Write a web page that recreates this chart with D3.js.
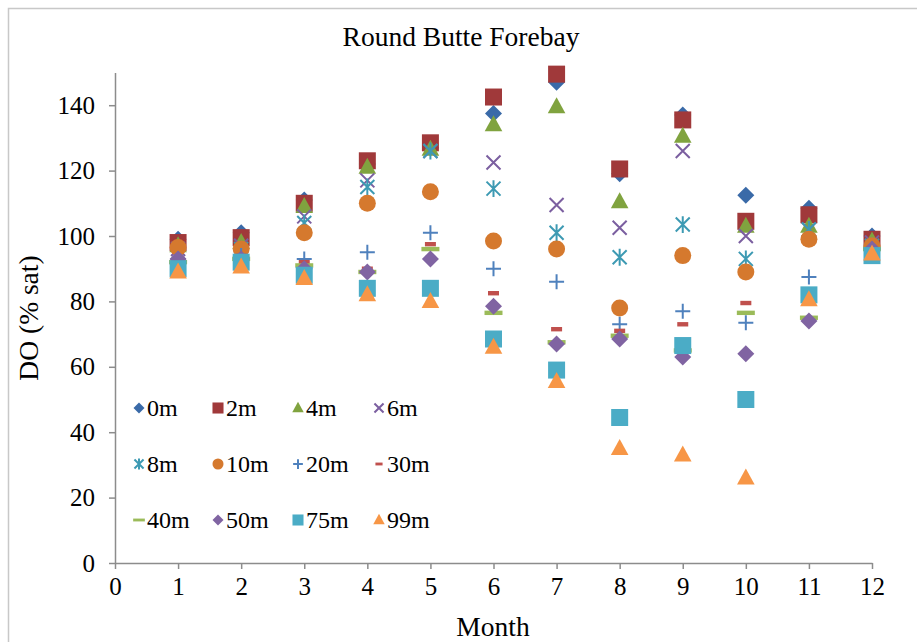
<!DOCTYPE html>
<html>
<head>
<meta charset="utf-8">
<script src="https://cdn.jsdelivr.net/npm/d3@7"></script>
<style>
  body { margin: 0; background: #fff; }
  svg text { font-family: "Liberation Serif", "Times New Roman", serif; fill: #000; }
</style>
</head>
<body>
<svg id="chart" width="917" height="642"></svg>
<script>
// Month of sampling
const months = [1, 2, 3, 4, 5, 6, 7, 8, 9, 10, 11, 12];
const xTickValues = [0, 1, 2, 3, 4, 5, 6, 7, 8, 9, 10, 11, 12];
const yTickValues = [0, 20, 40, 60, 80, 100, 120, 140];

// Dissolved oxygen (% saturation) by depth
const do0m  = [99, 101, 111, 122, 127, 137.5, 147, 119, 137, 112.5, 108.5, 100];
const do2m  = [98, 99.5, 110, 123, 128.5, 142.5, 149.5, 120.5, 135.5, 104.5, 106.5, 99];
const do4m  = [97, 98, 109, 121, 126.5, 134, 139.5, 110.5, 130.5, 103, 103, 98.5];
const do6m  = [96, 97, 106, 117, 126, 122.5, 109.5, 102.5, 126, 100, 102, 98];
const do8m  = [95, 96, 104, 115, 126, 114.5, 101, 93.5, 103.5, 93, 102, 97];
const do10m = [96.5, 96, 101, 110, 113.5, 98.5, 96, 78, 94, 89, 99, 97];
const do20m = [93, 94, 93, 95, 101, 90, 86, 73, 77, 73.5, 87.5, 96];
const do30m = [93, 94, 92, 90, 97.5, 82.5, 71.5, 71, 73, 79.5, 81, 96];
const do40m = [92, 93, 91, 89, 96, 76.5, 67.5, 69.5, 65, 76.5, 75, 96];
const do50m = [93, 93, 90, 89, 93, 78.5, 67, 68.5, 63, 64, 74, 96];
const do75m = [90, 92, 88, 84, 84, 68.5, 59, 44.5, 66.5, 50, 82, 94];
const do99m = [89, 90.5, 87, 82, 80, 66, 55.5, 35, 33, 26, 80.5, 94.5];

const depthLabels = ["0m", "2m", "4m", "6m", "8m", "10m", "20m", "30m", "40m", "50m", "75m", "99m"];
const depthValues = [do0m, do2m, do4m, do6m, do8m, do10m, do20m, do30m, do40m, do50m, do75m, do99m];
const depthColors = ["#3a6aa8", "#a0393a", "#80a33f", "#7b5fa0", "#3d9ab3", "#d5792e",
                     "#4f81bd", "#c0504d", "#9bbb59", "#8064a2", "#4bacc6", "#f79646"];
const depthMarkers = ["diamond", "square", "triangle", "cross", "star", "circle",
                      "plus", "dot", "dash", "diamond", "square", "triangle"];

// Marker outlines, scaled by s (1 = plot size)
function markerPath(type, s) {
  const p = d3.path();
  switch (type) {
    case "diamond": { const r = 8.5 * s; p.moveTo(0, -r); p.lineTo(r, 0); p.lineTo(0, r); p.lineTo(-r, 0); p.closePath(); break; }
    case "square": { const h = 8.5 * s; p.rect(-h, -h, 2 * h, 2 * h); break; }
    case "triangle": { const w = 8.8 * s, t = 9.5 * s, b = 6.5 * s; p.moveTo(0, -t); p.lineTo(w, b); p.lineTo(-w, b); p.closePath(); break; }
    case "circle": { const r = 8.5 * s; p.moveTo(r, 0); p.arc(0, 0, r, 0, 2 * Math.PI); break; }
    case "dot": { const w = 5.5 * s, h = 2.2 * s; p.rect(-w, -h, 2 * w, 2 * h); break; }
    case "dash": { const w = 9 * s, h = 2.2 * s; p.rect(-w, -h, 2 * w, 2 * h); break; }
    case "cross": { const r = 7 * s; p.moveTo(-r, -r); p.lineTo(r, r); p.moveTo(r, -r); p.lineTo(-r, r); break; }
    case "plus": { const r = 7.5 * s; p.moveTo(-r, 0); p.lineTo(r, 0); p.moveTo(0, -r); p.lineTo(0, r); break; }
    case "star": { const r = 7 * s; p.moveTo(-r, -r); p.lineTo(r, r); p.moveTo(r, -r); p.lineTo(-r, r); p.moveTo(0, -r * 1.2); p.lineTo(0, r * 1.2); break; }
  }
  return p.toString();
}
const strokedMarkers = new Set(["cross", "plus", "star"]);
const serif = "'Liberation Serif', 'Times New Roman', serif";

const svg = d3.select("#chart");

// Outer frame
svg.append("rect")
  .attr("x", 8.5).attr("y", 8.5).attr("width", 940).attr("height", 660)
  .attr("fill", "none").attr("stroke", "#c8c8c8").attr("stroke-width", 1.5);

const x = d3.scaleLinear().domain([0, 12]).range([115, 872]);
const y = d3.scaleLinear().domain([0, 150]).range([563, 72.5]);

// Title
svg.append("text")
  .attr("x", 461).attr("y", 46)
  .attr("text-anchor", "middle")
  .style("font-family", serif)
  .style("font-size", "27.5px")
  .text("Round Butte Forebay");

// Y axis
const yAxis = svg.append("g")
  .attr("transform", `translate(${x(0)},0)`)
  .call(d3.axisLeft(y).tickValues(yTickValues).tickSize(6).tickPadding(14).tickSizeOuter(0));
yAxis.select(".domain").attr("stroke", "#8c8c8c").attr("stroke-width", 1.5);
yAxis.selectAll(".tick line").attr("stroke", "#8c8c8c").attr("stroke-width", 1.5);
yAxis.selectAll(".tick text").style("font-size", "25px").attr("fill", "#000")
  .style("font-family", serif);

// X axis
const xAxis = svg.append("g")
  .attr("transform", `translate(0,${y(0)})`)
  .call(d3.axisBottom(x).tickValues(xTickValues).tickSize(6).tickPadding(8).tickSizeOuter(0));
xAxis.select(".domain").attr("stroke", "#8c8c8c").attr("stroke-width", 1.5);
xAxis.selectAll(".tick line").attr("stroke", "#8c8c8c").attr("stroke-width", 1.5);
xAxis.selectAll(".tick text").style("font-size", "25px").attr("fill", "#000")
  .style("font-family", serif);

// Axis titles
svg.append("text")
  .attr("transform", "translate(38,318) rotate(-90)")
  .attr("text-anchor", "middle")
  .style("font-family", serif)
  .style("font-size", "27.5px")
  .text("DO (% sat)");
svg.append("text")
  .attr("x", 493).attr("y", 636)
  .attr("text-anchor", "middle")
  .style("font-family", serif)
  .style("font-size", "27.5px")
  .text("Month");

// Data markers, one group per depth (deeper series on top)
depthLabels.forEach((label, i) => {
  const type = depthMarkers[i];
  const color = depthColors[i];
  const pts = months.map((m, j) => ({ m, v: depthValues[i][j] }));
  const g = svg.append("g").attr("class", "series-" + label);
  g.selectAll("path")
    .data(pts)
    .join("path")
    .attr("transform", d => `translate(${x(d.m)},${y(d.v)})`)
    .attr("d", markerPath(type, 1))
    .attr("fill", strokedMarkers.has(type) ? "none" : color)
    .attr("stroke", strokedMarkers.has(type) ? color : "none")
    .attr("stroke-width", 2);
});

// Legend: 3 rows x 4 columns
const legendCols = [139, 218, 298, 379];
const legendRows = [408, 464, 520];
const legend = svg.append("g");
depthLabels.forEach((label, i) => {
  const cx = legendCols[i % 4];
  const cy = legendRows[Math.floor(i / 4)];
  const type = depthMarkers[i];
  const color = depthColors[i];
  legend.append("path")
    .attr("transform", `translate(${cx},${cy})`)
    .attr("d", markerPath(type, 0.65))
    .attr("fill", strokedMarkers.has(type) ? "none" : color)
    .attr("stroke", strokedMarkers.has(type) ? color : "none")
    .attr("stroke-width", 2);
  legend.append("text")
    .attr("x", cx + 8).attr("y", cy + 8)
    .style("font-family", serif)
    .style("font-size", "24px")
    .text(label);
});
</script>
</body>
</html>
